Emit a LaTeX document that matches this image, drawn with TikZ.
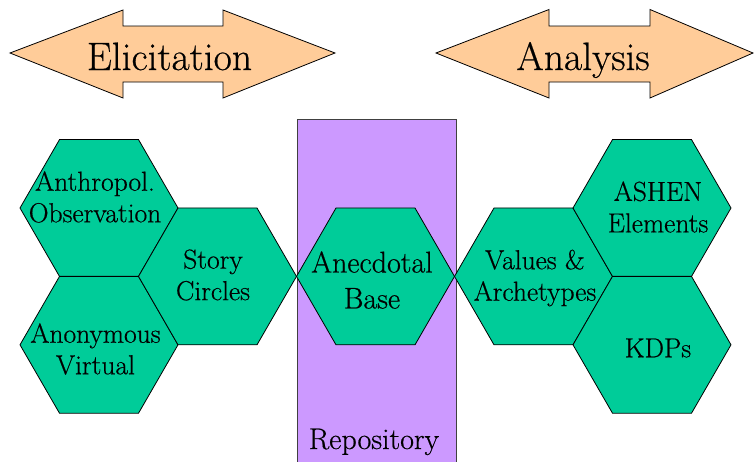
\documentclass[tikz,border=0pt]{standalone}
\usepackage{fontspec}
\newfontfamily\lmthick{Latin Modern Roman}[FakeBold=0.5]
\usetikzlibrary{shapes.geometric}
\definecolor{peach}{HTML}{FFCC99}
\definecolor{hexgreen}{HTML}{00CC99}
\definecolor{repo}{HTML}{CC99FF}
\tikzset{
  hexa/.style={regular polygon, regular polygon sides=6, minimum size=158pt, inner sep=0pt, outer sep=0pt, draw=black, line width=0.8pt, fill=hexgreen},
  hextext/.style={inner sep=0pt, align=center, font=\lmthick\fontsize{27.5}{31.5}\selectfont},
  bigtext/.style={inner sep=0pt, align=center, font=\lmthick\fontsize{30}{36}\selectfont},
  arrowtext/.style={inner sep=0pt, font=\lmthick\fontsize{39.6}{44}\selectfont},
  arrowshape/.style={draw=black, line width=0.8pt, fill=peach},
}
\begin{document}
\begin{tikzpicture}[x=1pt,y=-1pt]
\clip (0,0) rectangle (754,461);
\fill[white] (0,0) rectangle (754,461);
% double arrows
\draw[arrowshape] (10,53) -- (123,10) -- (123,26) -- (223,26) -- (223,10) -- (335,53) -- (223,98) -- (223,82) -- (123,82) -- (123,98) -- cycle;
\node[arrowtext, anchor=base] (elic) at (169.5,70) {Elicitation};
\draw[arrowshape] (436,53) -- (549,9.5) -- (549,26) -- (650,26) -- (650,9.5) -- (753,53) -- (650,98) -- (650,82) -- (549,82) -- (549,98) -- cycle;
\node[arrowtext, anchor=base] (anal) at (583,70) {Analysis};
% repository
\node[draw=black!75, line width=0.8pt, fill=repo, minimum width=159pt, minimum height=360pt, anchor=north west, inner sep=0pt] (repo) at (297,119) {};
\node[bigtext, anchor=base] (repotext) at (374,449) {Repository};
% hexagons
\node[hexa] (anth) at (99,208) {};
\node[hexa] (anon) at (99,344.8) {};
\node[hexa] (story) at (217.5,276.4) {};
\node[hexa] (anec) at (375.5,276.4) {};
\node[hexa] (vals) at (533.5,276.4) {};
\node[hexa] (ashen) at (652,208) {};
\node[hexa] (kdps) at (652,344.8) {};
% hexagon texts
\node[hextext] (anthT) at (95,197) {Anthropol.\\Observation};
\node[hextext] (anonT) at (95.5,349) {Anonymous\\Virtual};
\node[hextext] (storyT) at (213,275) {Story\\Circles};
\node[bigtext] (anecT) at (372,280) {Anecdotal\\Base};
\node[hextext] (valsT) at (535,278) {Values \&\\Archetypes};
\node[hextext] (ashenT) at (658,207) {ASHEN\\Elements};
\node[hextext] (kdpsT) at (658,348) {KDPs};
\end{tikzpicture}
\end{document}
